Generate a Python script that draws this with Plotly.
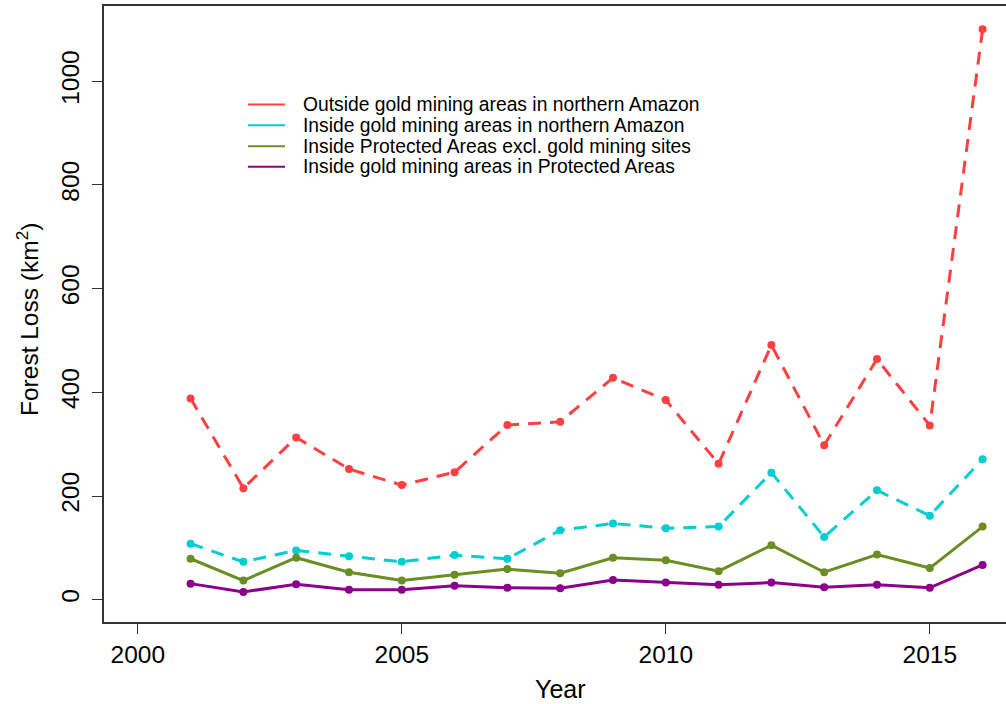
import plotly.graph_objects as go

years = list(range(2001, 2017))
outside_gold = [388, 215, 313, 252, 221, 246, 337, 343, 428, 385, 262, 491, 298, 464, 336, 1100]
inside_gold = [108, 73, 95, 84, 73, 86, 79, 134, 147, 138, 141, 245, 121, 211, 162, 271]
pa_excl_gold = [79, 37, 81, 53, 37, 48, 59, 51, 81, 76, 55, 105, 53, 87, 61, 141]
gold_in_pa = [31, 15, 30, 19, 19, 27, 23, 22, 38, 33, 29, 33, 24, 29, 23, 67]

series_names = [
    "Outside gold mining areas in northern Amazon",
    "Inside gold mining areas in northern Amazon",
    "Inside Protected Areas excl. gold mining sites",
    "Inside gold mining areas in Protected Areas",
]
series_values = [outside_gold, inside_gold, pa_excl_gold, gold_in_pa]
colors = ["#FF4040", "#00CED1", "#6B8E23", "#8B008B"]
dashes = ["13px,9px", "13px,9px", "solid", "solid"]

x_ticks = [2000, 2005, 2010, 2015]
y_ticks = [0, 200, 400, 600, 800, 1000]

FONT = "Liberation Sans, Arial, sans-serif"

fig = go.Figure()
for name, vals, col, dsh in zip(series_names, series_values, colors, dashes):
    fig.add_trace(go.Scatter(
        x=years, y=vals, name=name, mode="lines+markers",
        line=dict(color=col, width=3, dash=dsh),
        marker=dict(color=col, size=8, symbol="circle"),
        showlegend=False,
    ))

# plot area geometry (pixels)
L, R, T, B = 104, 1006, 5.7, 622.3
W, H = R - L, B - T

def px(x):
    return (x - L) / W

def py(y):
    return (B - y) / H

# manual legend (R-style, no box)
leg_y = [104.3, 125.0, 146.0, 166.7]
for name, col, yy in zip(series_names, colors, leg_y):
    fig.add_shape(type="line", xref="paper", yref="paper",
                  x0=px(248), x1=px(285), y0=py(yy), y1=py(yy),
                  line=dict(color=col, width=2))
    fig.add_annotation(xref="paper", yref="paper", x=px(301), y=py(yy),
                       text=name, showarrow=False, xanchor="left", yanchor="middle",
                       font=dict(family=FONT, size=19.3, color="black"))

# axis titles
fig.add_annotation(xref="paper", yref="paper", x=px(560), y=py(689),
                   text="Year", showarrow=False, xanchor="center", yanchor="middle",
                   font=dict(family=FONT, size=25, color="black"))
fig.add_annotation(xref="paper", yref="paper", x=px(28), y=py(320),
                   text="Forest Loss (km<sup>2</sup>)", showarrow=False, textangle=-90,
                   xanchor="center", yanchor="middle",
                   font=dict(family=FONT, size=24.5, color="black"))

x0 = 1999.36
ppy = 52.8
fig.update_xaxes(
    range=[x0, x0 + W / ppy], tickvals=x_ticks, ticktext=[str(v) for v in x_ticks],
    ticks="outside", ticklen=10, tickcolor="#333", tickwidth=1,
    showline=True, linecolor="#333", linewidth=1.5, mirror=True,
    showgrid=False, zeroline=False,
    tickfont=dict(family=FONT, size=24.5, color="black"),
)
fig.update_yaxes(
    range=[-43, 1145], tickvals=y_ticks, ticktext=[str(v) for v in y_ticks],
    ticks="outside", ticklen=10, tickcolor="#333", tickwidth=1, tickangle=-90,
    ticklabelstandoff=3,
    showline=True, linecolor="#333", linewidth=1.5, mirror=False,
    showgrid=False, zeroline=False,
    tickfont=dict(family=FONT, size=24.5, color="black"),
)

fig.update_layout(
    width=1006, height=704,
    margin=dict(l=L, r=0, t=T, b=704 - B),
    plot_bgcolor="white", paper_bgcolor="white",
    showlegend=False,
)

fig.write_html("out.html")
